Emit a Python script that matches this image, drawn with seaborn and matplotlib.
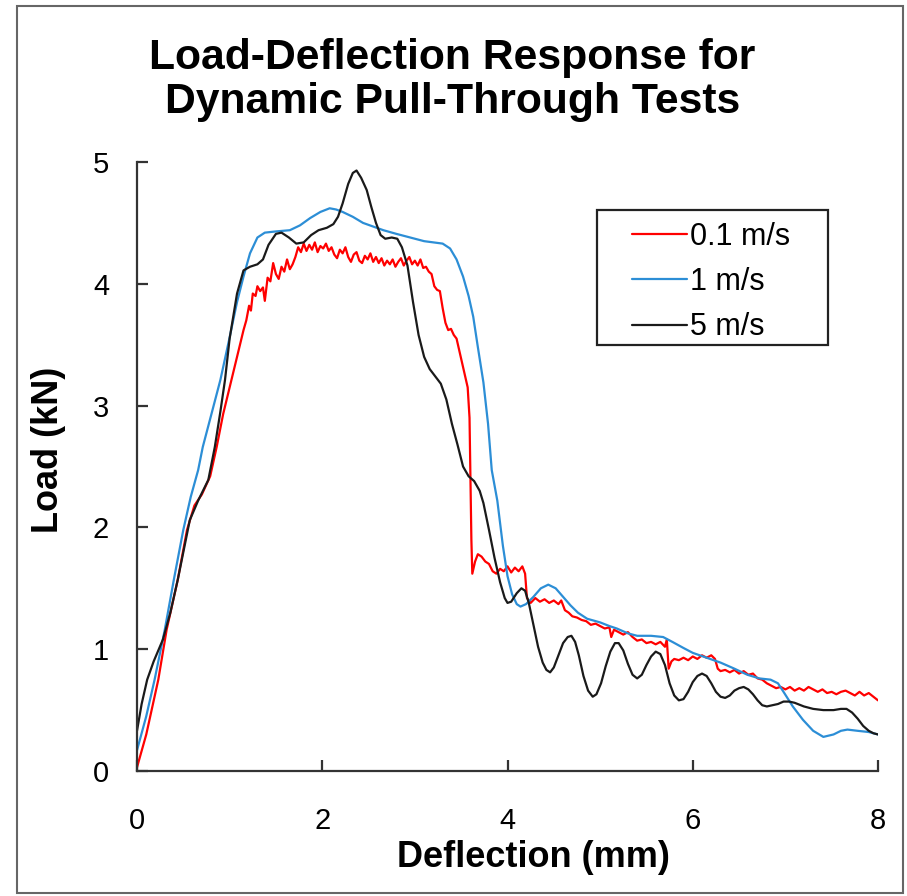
import numpy as np
import pandas as pd
import matplotlib
matplotlib.use("Agg")
import matplotlib.pyplot as plt
import seaborn as sns
from matplotlib.patches import Rectangle

# 0.1 m/s test (noisy trace)
red_x = [0.00, 0.10, 0.23, 0.32, 0.44, 0.54, 0.62, 0.70, 0.79, 0.86, 0.93, 1.02, 1.08, 1.15, 1.18,
         1.21, 1.23, 1.25, 1.28, 1.30, 1.33, 1.36, 1.38, 1.41, 1.44, 1.47, 1.50, 1.53, 1.56, 1.59,
         1.62, 1.65, 1.68, 1.71, 1.74, 1.77, 1.80, 1.83, 1.86, 1.89, 1.92, 1.95, 1.98, 2.01, 2.04,
         2.07, 2.10, 2.13, 2.16, 2.19, 2.22, 2.25, 2.28, 2.31, 2.34, 2.37, 2.40, 2.43, 2.46, 2.49,
         2.52, 2.55, 2.58, 2.61, 2.64, 2.67, 2.70, 2.73, 2.76, 2.79, 2.82, 2.85, 2.88, 2.91, 2.94,
         2.97, 3.00, 3.03, 3.06, 3.09, 3.12, 3.15, 3.18, 3.21, 3.24, 3.27, 3.30, 3.33, 3.36, 3.39,
         3.42, 3.45, 3.48, 3.51, 3.54, 3.57, 3.59, 3.60, 3.61, 3.62, 3.65, 3.68, 3.72, 3.76, 3.80,
         3.84, 3.88, 3.92, 3.96, 4.00, 4.04, 4.08, 4.12, 4.16, 4.19, 4.21, 4.25, 4.30, 4.35, 4.40,
         4.45, 4.50, 4.55, 4.58, 4.62, 4.66, 4.70, 4.75, 4.80, 4.85, 4.90, 4.95, 5.00, 5.05, 5.10,
         5.12, 5.15, 5.20, 5.25, 5.30, 5.35, 5.40, 5.45, 5.50, 5.55, 5.60, 5.65, 5.70, 5.72, 5.74,
         5.77, 5.80, 5.85, 5.90, 5.95, 6.00, 6.05, 6.10, 6.15, 6.20, 6.24, 6.27, 6.30, 6.35, 6.40,
         6.45, 6.50, 6.55, 6.60, 6.65, 6.70, 6.75, 6.80, 6.85, 6.90, 6.95, 7.00, 7.05, 7.10, 7.15,
         7.20, 7.25, 7.30, 7.35, 7.40, 7.45, 7.50, 7.55, 7.60, 7.65, 7.70, 7.75, 7.80, 7.85, 7.90,
         7.95, 8.00]
red_y = [0.03, 0.30, 0.75, 1.16, 1.57, 1.98, 2.18, 2.27, 2.42, 2.66, 2.93, 3.21, 3.40, 3.62, 3.70,
         3.82, 3.78, 3.92, 3.90, 3.98, 3.94, 3.97, 3.86, 4.05, 4.02, 4.17, 4.08, 4.04, 4.14, 4.10,
         4.20, 4.12, 4.16, 4.22, 4.30, 4.26, 4.33, 4.27, 4.32, 4.28, 4.34, 4.26, 4.31, 4.29, 4.33,
         4.27, 4.30, 4.24, 4.21, 4.28, 4.25, 4.30, 4.22, 4.18, 4.24, 4.26, 4.19, 4.17, 4.23, 4.20,
         4.25, 4.18, 4.22, 4.17, 4.21, 4.15, 4.19, 4.16, 4.20, 4.14, 4.18, 4.21, 4.15, 4.19, 4.22,
         4.16, 4.19, 4.15, 4.20, 4.13, 4.14, 4.10, 4.08, 3.98, 3.95, 3.94, 3.80, 3.68, 3.62, 3.63,
         3.58, 3.55, 3.45, 3.35, 3.25, 3.15, 2.90, 2.40, 1.90, 1.62, 1.72, 1.78, 1.76, 1.72, 1.70,
         1.64, 1.62, 1.66, 1.64, 1.68, 1.63, 1.67, 1.64, 1.68, 1.62, 1.42, 1.38, 1.42, 1.39, 1.41,
         1.38, 1.40, 1.37, 1.40, 1.32, 1.30, 1.27, 1.26, 1.24, 1.23, 1.20, 1.21, 1.19, 1.17, 1.18,
         1.10, 1.16, 1.14, 1.12, 1.14, 1.10, 1.07, 1.08, 1.05, 1.06, 1.04, 1.06, 1.02, 1.08, 0.84,
         0.90, 0.92, 0.91, 0.93, 0.91, 0.94, 0.92, 0.95, 0.93, 0.95, 0.92, 0.84, 0.82, 0.83, 0.81,
         0.83, 0.80, 0.82, 0.79, 0.80, 0.76, 0.75, 0.72, 0.70, 0.68, 0.69, 0.67, 0.69, 0.66, 0.68,
         0.66, 0.69, 0.67, 0.65, 0.67, 0.64, 0.65, 0.63, 0.65, 0.66, 0.64, 0.62, 0.65, 0.62, 0.64,
         0.61, 0.58]

# 1 m/s test
blue_x = [0.00, 0.10, 0.19, 0.30, 0.40, 0.50, 0.58, 0.66, 0.71, 0.80, 0.90, 1.00, 1.08, 1.15,
          1.22, 1.30, 1.38, 1.50, 1.65, 1.76, 1.87, 1.98, 2.08, 2.15, 2.22, 2.33, 2.44, 2.55,
          2.66, 2.80, 2.95, 3.10, 3.20, 3.30, 3.38, 3.45, 3.52, 3.58, 3.63, 3.68, 3.74, 3.79,
          3.83, 3.89, 3.95, 4.00, 4.05, 4.10, 4.14, 4.20, 4.28, 4.36, 4.44, 4.52, 4.60, 4.68,
          4.76, 4.86, 5.00, 5.10, 5.18, 5.30, 5.40, 5.55, 5.68, 5.78, 5.90, 6.00, 6.15, 6.30,
          6.45, 6.59, 6.72, 6.84, 6.92, 6.98, 7.08, 7.19, 7.30, 7.41, 7.52, 7.60, 7.67, 7.78,
          7.90, 8.00]
blue_y = [0.17, 0.45, 0.75, 1.16, 1.58, 1.98, 2.25, 2.47, 2.66, 2.92, 3.21, 3.56, 3.85, 4.06,
          4.25, 4.38, 4.42, 4.43, 4.44, 4.48, 4.54, 4.59, 4.62, 4.61, 4.59, 4.55, 4.50, 4.47,
          4.44, 4.41, 4.38, 4.35, 4.34, 4.33, 4.29, 4.20, 4.06, 3.90, 3.73, 3.48, 3.19, 2.85,
          2.47, 2.22, 1.85, 1.60, 1.45, 1.37, 1.35, 1.37, 1.43, 1.50, 1.53, 1.50, 1.43, 1.36,
          1.30, 1.25, 1.22, 1.19, 1.17, 1.13, 1.11, 1.11, 1.10, 1.06, 1.01, 0.97, 0.93, 0.89,
          0.84, 0.79, 0.76, 0.75, 0.72, 0.65, 0.53, 0.42, 0.33, 0.28, 0.30, 0.33, 0.34, 0.33,
          0.32, 0.30]

# 5 m/s test
black_x = [0.00, 0.05, 0.11, 0.18, 0.28, 0.36, 0.44, 0.57, 0.66, 0.77, 0.84, 0.90, 0.95, 1.00,
           1.08, 1.15, 1.22, 1.30, 1.36, 1.42, 1.50, 1.56, 1.64, 1.72, 1.80, 1.88, 1.96, 2.05,
           2.12, 2.17, 2.22, 2.28, 2.33, 2.37, 2.42, 2.48, 2.53, 2.58, 2.63, 2.68, 2.75, 2.81,
           2.86, 2.92, 2.98, 3.04, 3.10, 3.16, 3.22, 3.28, 3.34, 3.40, 3.46, 3.52, 3.58, 3.64,
           3.70, 3.74, 3.80, 3.86, 3.92, 3.97, 4.00, 4.04, 4.10, 4.15, 4.19, 4.23, 4.28, 4.33,
           4.38, 4.42, 4.46, 4.50, 4.55, 4.60, 4.65, 4.69, 4.73, 4.77, 4.82, 4.87, 4.92, 4.96,
           5.01, 5.06, 5.11, 5.16, 5.20, 5.25, 5.30, 5.35, 5.40, 5.45, 5.50, 5.55, 5.60, 5.65,
           5.70, 5.75, 5.80, 5.85, 5.90, 5.95, 6.00, 6.05, 6.10, 6.15, 6.20, 6.25, 6.30, 6.35,
           6.40, 6.45, 6.50, 6.55, 6.60, 6.65, 6.70, 6.75, 6.80, 6.86, 6.92, 6.98, 7.04, 7.10,
           7.20, 7.30, 7.41, 7.52, 7.60, 7.66, 7.72, 7.78, 7.84, 7.90, 7.95, 8.00]
black_y = [0.33, 0.55, 0.75, 0.90, 1.08, 1.30, 1.57, 2.06, 2.22, 2.39, 2.66, 2.95, 3.21, 3.55,
           3.92, 4.11, 4.14, 4.16, 4.20, 4.32, 4.41, 4.42, 4.38, 4.33, 4.34, 4.40, 4.44, 4.46,
           4.49, 4.55, 4.66, 4.82, 4.91, 4.93, 4.87, 4.77, 4.63, 4.50, 4.40, 4.37, 4.38, 4.37,
           4.30, 4.15, 3.85, 3.58, 3.40, 3.30, 3.24, 3.18, 3.05, 2.85, 2.68, 2.50, 2.42, 2.38,
           2.30, 2.20, 1.98, 1.75, 1.55, 1.42, 1.38, 1.39, 1.46, 1.50, 1.48, 1.38, 1.20, 1.02,
           0.89, 0.83, 0.81, 0.85, 0.95, 1.05, 1.10, 1.11, 1.06, 0.95, 0.78, 0.66, 0.61, 0.63,
           0.72, 0.86, 0.98, 1.05, 1.05, 0.99, 0.88, 0.79, 0.76, 0.79, 0.87, 0.94, 0.98, 0.96,
           0.87, 0.72, 0.62, 0.58, 0.59, 0.65, 0.73, 0.78, 0.80, 0.78, 0.72, 0.65, 0.61, 0.60,
           0.62, 0.66, 0.68, 0.69, 0.67, 0.63, 0.58, 0.54, 0.53, 0.54, 0.55, 0.57, 0.57, 0.56,
           0.53, 0.51, 0.50, 0.50, 0.51, 0.51, 0.48, 0.43, 0.37, 0.33, 0.31, 0.30]

speeds = ["0.1 m/s", "1 m/s", "5 m/s"]
colors = ["#FF0000", "#2C8ED6", "#1A1A1A"]

df = pd.concat([
    pd.DataFrame({"Deflection": red_x, "Load": red_y, "Speed": speeds[0]}),
    pd.DataFrame({"Deflection": blue_x, "Load": blue_y, "Speed": speeds[1]}),
    pd.DataFrame({"Deflection": black_x, "Load": black_y, "Speed": speeds[2]}),
])

sns.set_style("white")
plt.rcParams["font.family"] = ["Liberation Sans", "DejaVu Sans"]
plt.rcParams["text.color"] = "black"
plt.rcParams["xtick.color"] = "black"
plt.rcParams["ytick.color"] = "black"

W, H = 907, 896
fig = plt.figure(figsize=(W / 100, H / 100), dpi=100)
ax = fig.add_axes([137 / W, 1 - 771 / H, (878 - 137) / W, (771 - 162) / H])

sns.lineplot(data=df, x="Deflection", y="Load", hue="Speed", hue_order=speeds,
             palette=dict(zip(speeds, colors)), estimator=None, sort=False,
             linewidth=1.6, solid_joinstyle="round", ax=ax)

ax.set_xlim(0, 8)
ax.set_ylim(0, 5)
ax.set_xticks([0, 2, 4, 6, 8])
ax.set_yticks([0, 1, 2, 3, 4, 5])
ax.set_xlabel("")
ax.set_ylabel("")
sns.despine(ax=ax)
for s in ["left", "bottom"]:
    ax.spines[s].set_color("#333333")
    ax.spines[s].set_linewidth(1.6)
ax.tick_params(bottom=True, left=True, direction="in", length=8, width=1.6,
               color="#333333", labelcolor="black", labelsize=21)
ax.tick_params(axis="x", pad=26)
ax.tick_params(axis="y", pad=20)

# legend without frame, box drawn separately
leg = ax.legend(loc="upper left", bbox_to_anchor=(0.668, 0.902), frameon=False,
                fontsize=22, handlelength=1.8, handletextpad=0.1, labelspacing=0.5,
                borderpad=0, borderaxespad=0)
for line in leg.get_lines():
    line.set_linewidth(1.6)
ax.add_patch(Rectangle((0.621, 0.6995), 0.9325 - 0.621, 0.921 - 0.6995,
                       transform=ax.transAxes, fill=False, edgecolor="#222222",
                       linewidth=1.6, clip_on=False))

fig.text(0.499, 1 - 80 / H, "Load-Deflection Response for\nDynamic Pull-Through Tests",
         ha="center", va="center", fontsize=30.7, fontweight="bold", linespacing=1.1)
fig.text(533 / W, 1 - 857 / H, "Deflection (mm)", ha="center", va="center",
         fontsize=26, fontweight="bold")
fig.text(48 / W, 1 - 450 / H, "Load (kN)", ha="center", va="center", rotation=90,
         fontsize=26, fontweight="bold")

# outer frame around the whole chart
fig.patches.append(Rectangle((17 / W, 1 - 893 / H), (903 - 17) / W, (893 - 6) / H,
                             transform=fig.transFigure, fill=False,
                             edgecolor="#666666", linewidth=1.5))

fig.savefig("out.png", dpi=100)
